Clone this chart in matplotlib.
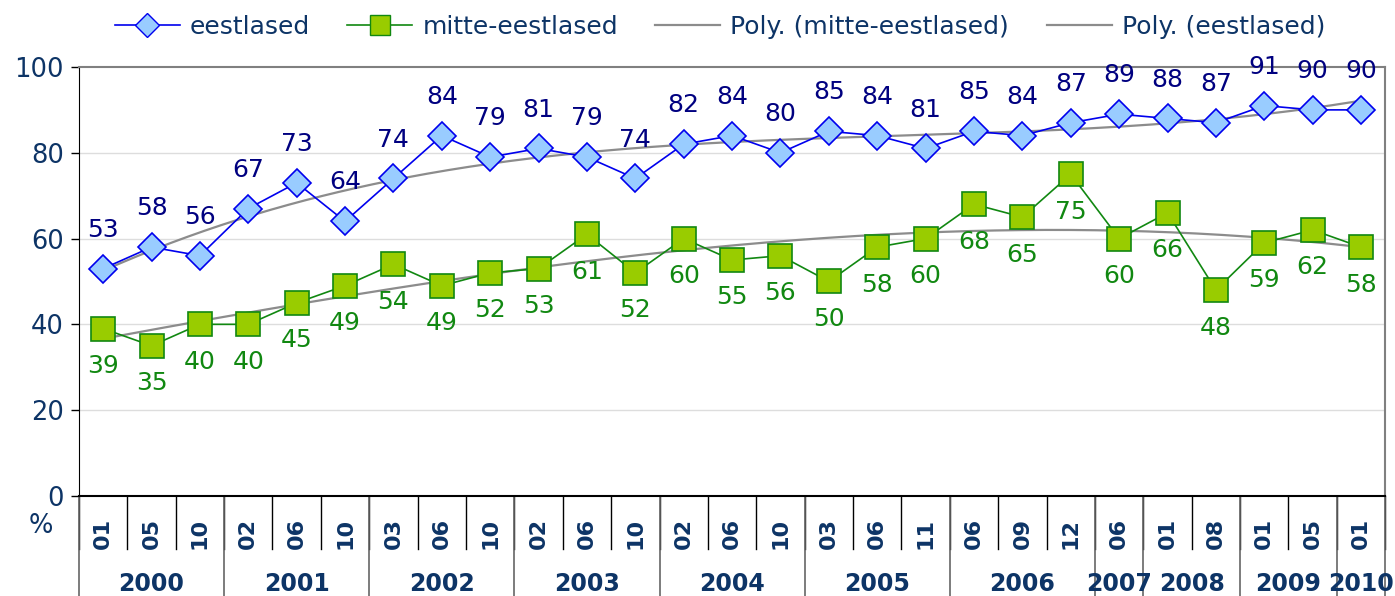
import numpy as np
import matplotlib
matplotlib.use("Agg")
import matplotlib.pyplot as plt
from matplotlib.lines import Line2D

# survey waves (month labels) and the year each group belongs to
months = ["01", "05", "10", "02", "06", "10", "03", "06", "10", "02", "06", "10",
          "02", "06", "10", "03", "06", "11", "06", "09", "12", "06", "01", "08",
          "01", "05", "01"]
years = ["2000", "2001", "2002", "2003", "2004", "2005", "2006", "2007", "2008", "2009", "2010"]
year_sizes = [3, 3, 3, 3, 3, 3, 3, 1, 2, 2, 1]

eestlased = [53, 58, 56, 67, 73, 64, 74, 84, 79, 81, 79, 74, 82, 84, 80, 85, 84, 81,
             85, 84, 87, 89, 88, 87, 91, 90, 90]
mitte_eestlased = [39, 35, 40, 40, 45, 49, 54, 49, 52, 53, 61, 52, 60, 55, 56, 50, 58, 60,
                   68, 65, 75, 60, 66, 48, 59, 62, 58]

NAVY = "#0d3466"
BLUE = "#0000ee"
GREEN = "#118811"
TREND = "#8c8c8c"

plt.rcParams["font.family"] = ["DejaVu Sans"]

fig = plt.figure(figsize=(13.95, 5.96), dpi=100)
ax = fig.add_axes([0.0566, 0.168, 0.9364, 0.7196])

x = np.arange(len(months))
xs = np.linspace(x[0], x[-1], 300)

# polynomial trend lines (Excel style "Poly.")
p_m = np.polyfit(x, mitte_eestlased, 3)
p_e = np.polyfit(x, eestlased, 3)
ax.plot(xs, np.polyval(p_m, xs), color=TREND, lw=1.6, zorder=2)
ax.plot(xs, np.polyval(p_e, xs), color=TREND, lw=1.6, zorder=2)

ax.plot(x, eestlased, color=BLUE, lw=1.2, marker="D", ms=14,
        mfc="#99ccff", mec=BLUE, mew=1.2, zorder=4)
ax.plot(x, mitte_eestlased, color=GREEN, lw=1.2, marker="s", ms=17,
        mfc="#99cc00", mec=GREEN, mew=1.2, zorder=3)

for xi, v in zip(x, eestlased):
    ax.annotate(str(v), (xi, v), xytext=(0, 28), textcoords="offset points",
                ha="center", va="center", fontsize=18, color="#000080", zorder=5)
for xi, v in zip(x, mitte_eestlased):
    ax.annotate(str(v), (xi, v), xytext=(0, -27), textcoords="offset points",
                ha="center", va="center", fontsize=18, color=GREEN, zorder=5)

ax.set_xlim(-0.5, len(months) - 0.5)
ax.set_ylim(0, 100)
ax.set_yticks([0, 20, 40, 60, 80, 100])
ax.tick_params(axis="y", labelsize=18.5, labelcolor=NAVY, length=6, width=1, direction="out", pad=5)
ax.set_xticks([])
for y in [20, 40, 60, 80]:
    ax.axhline(y, color="#dddddd", lw=1, zorder=1)
ax.spines["top"].set_color("#808080")
ax.spines["top"].set_linewidth(1.5)
ax.spines["right"].set_color("#808080")
ax.spines["right"].set_linewidth(1.5)
ax.spines["left"].set_color("black")
ax.spines["bottom"].set_color("black")
ax.spines["bottom"].set_linewidth(1.5)

# category table under the axis
trans = ax.get_xaxis_transform()
for b in range(len(months) + 1):
    ax.plot([b - 0.5, b - 0.5], [0, -0.124], color="black", lw=1, transform=trans, clip_on=False)
for xi, m in zip(x, months):
    ax.text(xi, -0.088, m, rotation=90, ha="center", va="center", fontsize=16,
            fontweight="bold", color=NAVY, transform=trans)
start = 0
for yr, n in zip(years, year_sizes):
    ax.plot([start - 0.5, start - 0.5], [0, -0.3], color="#666666", lw=1.2, transform=trans, clip_on=False)
    ax.text(start - 0.5 + n / 2, -0.205, yr, ha="center", va="center", fontsize=17,
            fontweight="bold", color=NAVY, transform=trans)
    start += n
ax.plot([start - 0.5, start - 0.5], [0, -0.3], color="#666666", lw=1.2, transform=trans, clip_on=False)

fig.text(0.029, 0.118, "%", fontsize=18.5, color=NAVY, ha="center", va="center")

handles = [
    Line2D([], [], color=BLUE, lw=1.2, marker="D", ms=12, mfc="#99ccff", mec=BLUE),
    Line2D([], [], color=GREEN, lw=1.2, marker="s", ms=14, mfc="#99cc00", mec=GREEN),
    Line2D([], [], color=TREND, lw=1.6),
    Line2D([], [], color=TREND, lw=1.6),
]
labels = ["eestlased", "mitte-eestlased", "Poly. (mitte-eestlased)", "Poly. (eestlased)"]
leg = fig.legend(handles, labels, loc="center", bbox_to_anchor=(0.516, 0.955), ncol=4,
                 frameon=False, fontsize=18, handlelength=2.6, columnspacing=1.5, handletextpad=0.4)
for t in leg.get_texts():
    t.set_color(NAVY)

fig.savefig("out.png", dpi=100)
